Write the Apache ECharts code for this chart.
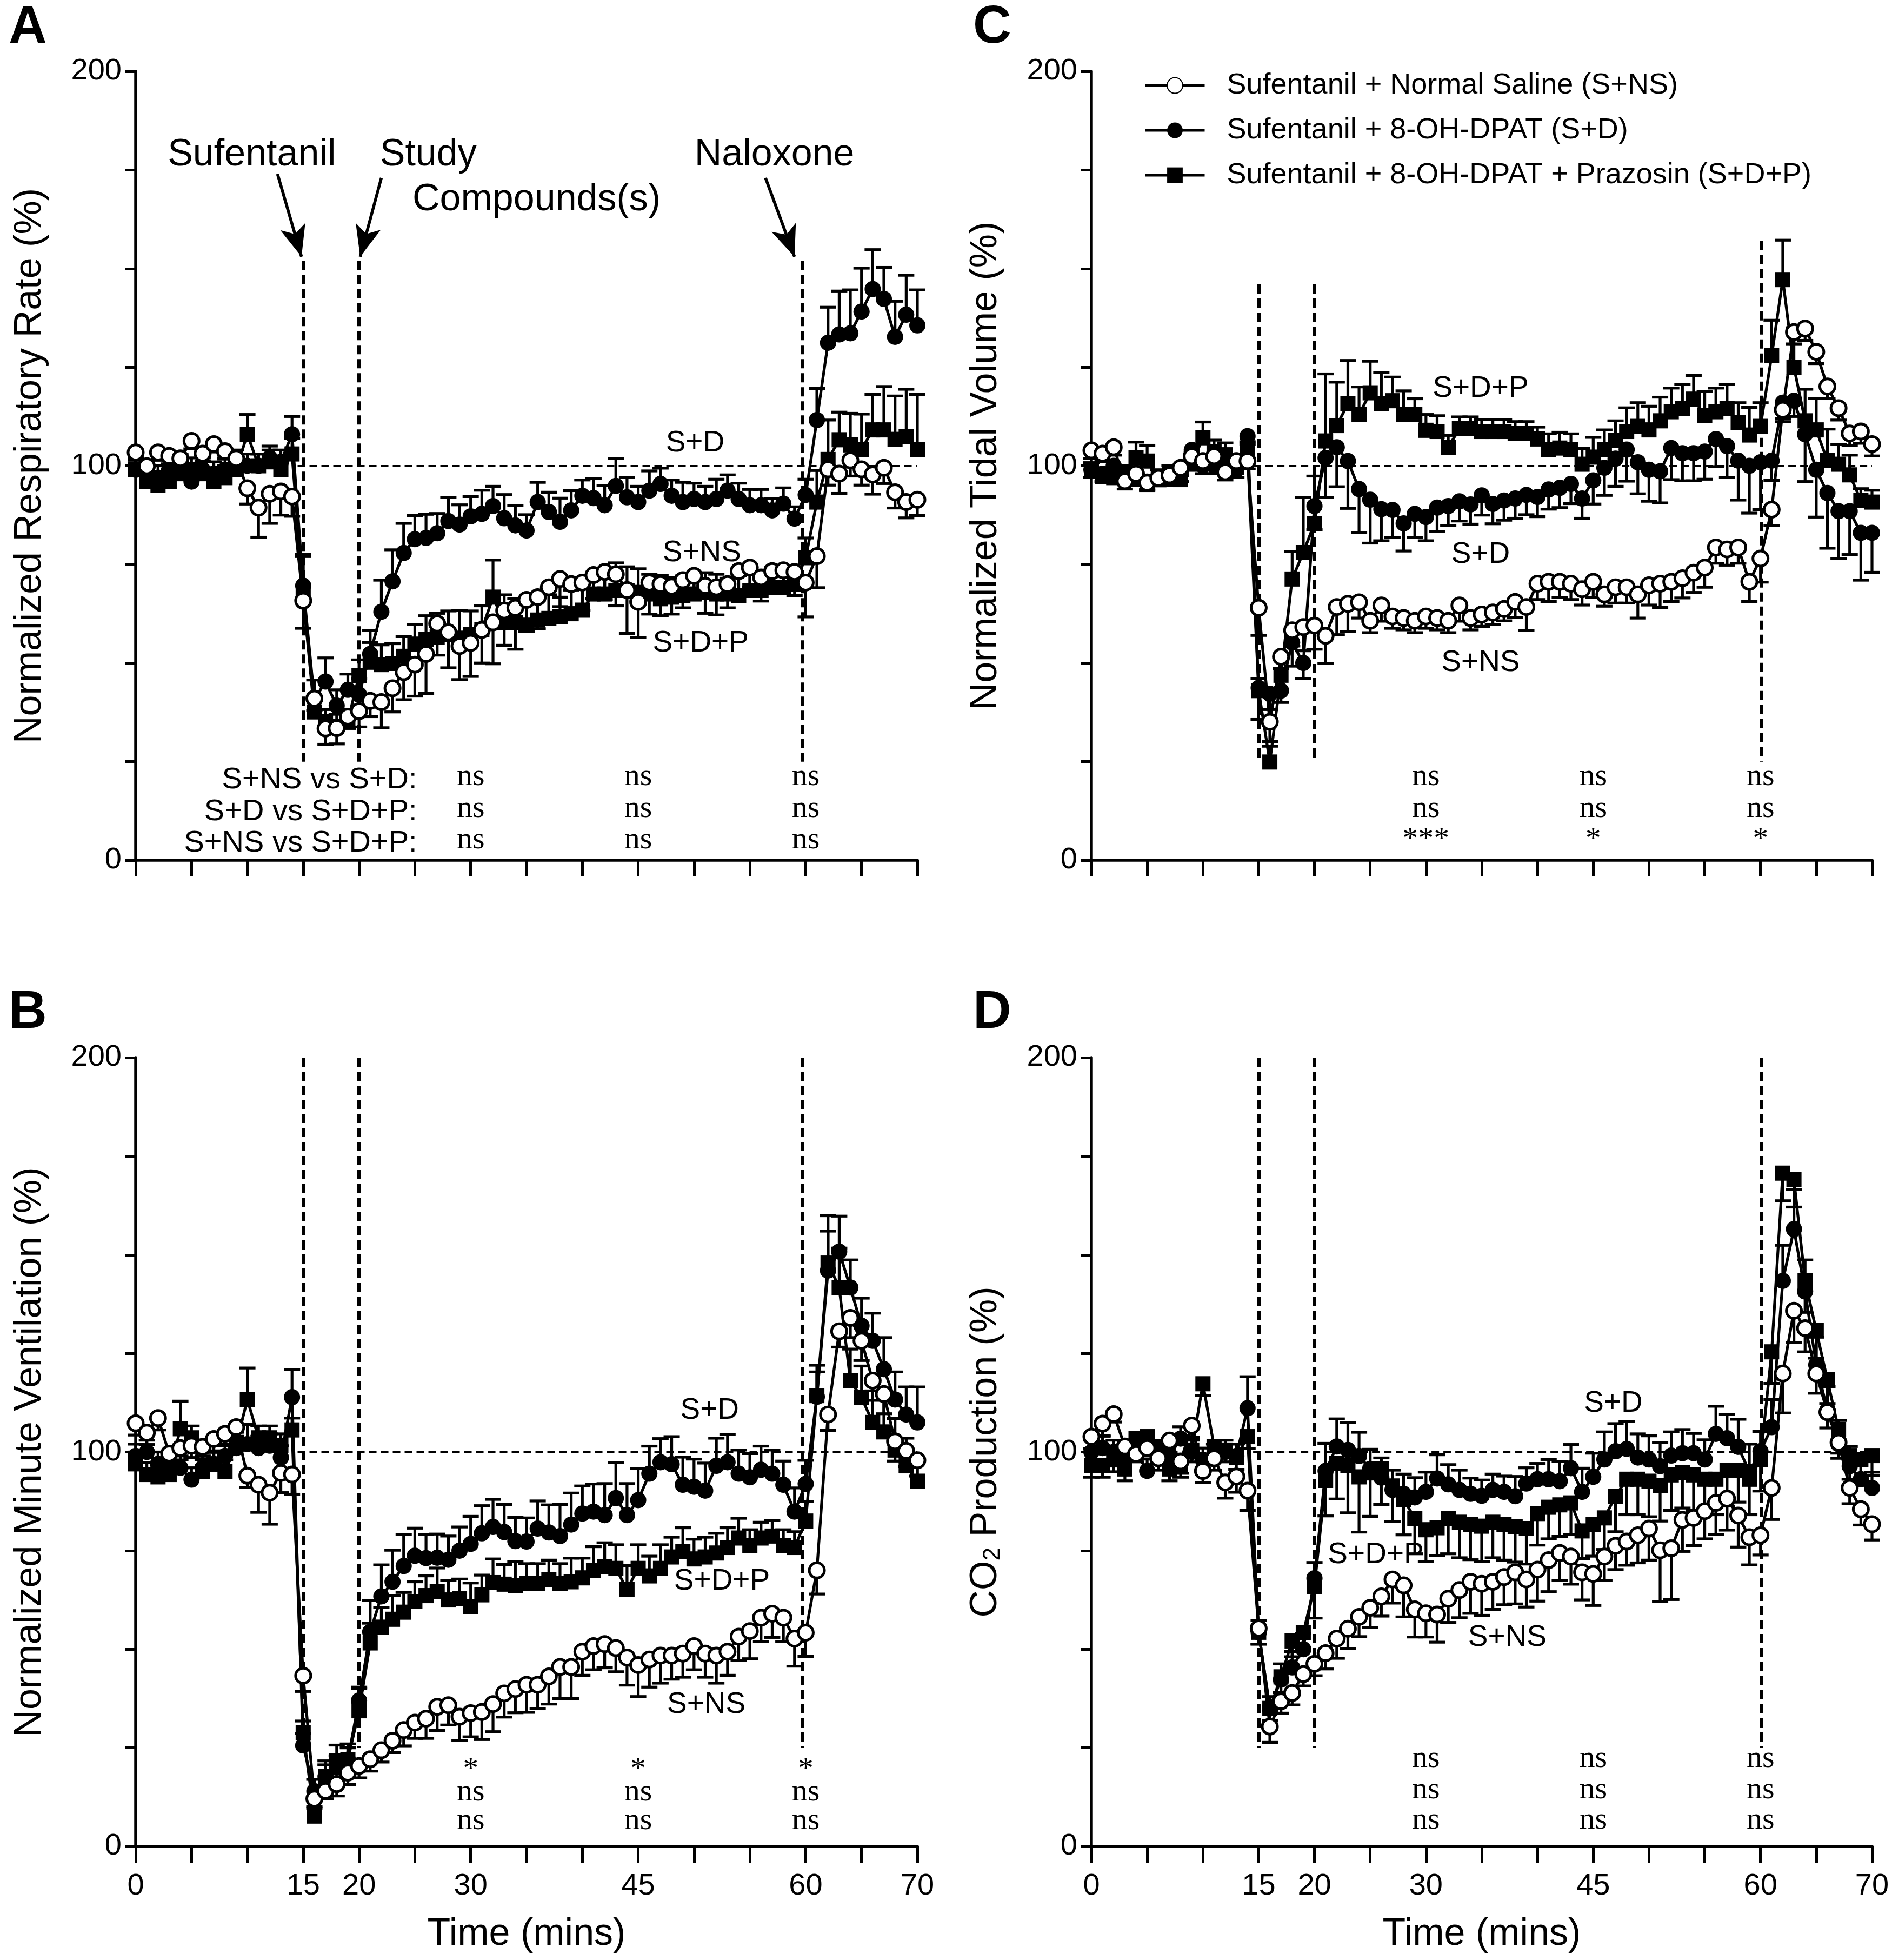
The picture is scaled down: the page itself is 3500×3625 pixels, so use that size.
<!DOCTYPE html>
<html><head><meta charset="utf-8">
<script src="https://cdn.jsdelivr.net/npm/echarts@6/dist/echarts.min.js"></script>
<style>html,body{margin:0;padding:0;background:#fff}#c{width:3500px;height:3625px}</style>
</head><body><div id="c"></div>
<script>
// ---------- DATA ----------
const minutes = [0,1,2,3,4,5,6,7,8,9,10,11,12,13,14,15,16,17,18,19,20,21,22,23,24,25,26,27,28,29,30,31,32,33,34,35,36,37,38,39,40,41,42,43,44,45,46,47,48,49,50,51,52,53,54,55,56,57,58,59,60,61,62,63,64,65,66,67,68,69,70];
const xTickLabels = [0,15,20,30,45,60,70];
const yTickLabels = [0,100,200];
const seriesNames = ['Sufentanil + Normal Saline (S+NS)','Sufentanil + 8-OH-DPAT (S+D)','Sufentanil + 8-OH-DPAT + Prazosin (S+D+P)'];

// Panel A: Normalized Respiratory Rate (%)
const rrNS = [103.4,99.9,103.4,102.5,101.9,106.3,103.1,105.5,103.7,101.9, 94.3,89.4,92.9,93.5,92.2,65.8,41.0,33.4,33.5,36.4, 37.8,40.4,40.1,43.6,47.7,49.6,52.3,60.0,57.8,54.3, 55.1,58.4,60.3,63.3,64.0,66.0,66.7,69.2,71.3,70.0, 70.4,72.3,73.1,72.5,68.5,65.5,70.4,70.0,69.4,71.0, 72.1,69.6,69.2,70.0,73.3,74.2,71.7,73.3,73.5,73.1, 70.4,77.1,99.1,98.0,101.4,99.1,97.8,99.5,93.3,90.8, 91.4];
const rrNSerr = [2,2,2,2,2,2,2,2,2,2, 4,7.5,7.5,6,5,7,3,4,4,3, 4,4,6.5,6,7,8,10,8,9,8.5, 8.5,8.4,10.5,8.8,10.5,8,8,8,7,7, 7,6,7,8,11,9,8,8,7,7, 6,7,7,6,6,5,6,5,5,6, 8.7,8,4,5,4,4,5,4,4,4, 4];
const rrD = [99,98,97,99,100,96,99,98,99,101, 100,100,102,101,108,69.6,40.7,45.3,39.2,43.2, 42.0,52.3,63.0,70.7,77.9,81.4,81.7,82.9,86.0,85.1, 87.2,87.8,89.8,86.7,84.9,83.6,90.8,88.3,85.8,88.7, 92.4,91.8,90.0,94.9,92.0,90.8,93.7,95.4,92.4,90.8, 91.6,90.8,91.6,93.7,91.6,90.0,90.0,88.7,90.4,86.6, 92.6,111.6,131.2,133.3,133.6,139.1,144.8,142.3,132.7,138.3, 135.6];
const rrDerr = [3,3,3,3,3,3,3,3,3,3, 3,3,3,3,4.5,8,5,6,4,4, 4,6,8,8,7.5,6,6,5,6,5, 5,6,5,6,5,4,5,5,6,5, 4,5,5,7,5,4,5,4,4,5, 4,4,5,4,4,4,4,3,4,3, 4,8,9,11,11,11,10,8,9,10, 9];
const rrP = [99,96,95,96,98,99,98,96,97,99, 108,100,101,99,103,67.0,37.6,35.2,34.0,35.2, 46.8,50.2,49.6,49.9,51.7,54.8,56.0,56.6,57.2,56.3, 57.2,58.5,66.7,60.3,60.3,59.6,60.9,61.3,61.7,62.5, 63.4,67.5,67.5,68.4,68.4,67.9,67.5,66.3,66.7,67.1, 67.5,67.9,67.5,67.5,67.1,68.4,68.4,69.2,69.2,70.0, 76.7,90.8,101.6,106.6,105.3,104.1,109.1,109.1,106.7,107.4, 104.1];
const rrPerr = [3,3,3,3,3,3,3,3,3,3, 5,3,3,3,4,10,4,3,3,3, 4,5,5,5,5,5,6,6,6,7, 6,6,9.4,7,6,6,5,6,5,6, 6,5,6,7,6,6,5,6,5,5, 5,5,5,4,5,4,4,5,4,4, 5,8,10,7,8,9,9,11,11,12, 14];

// Panel B: Normalized Minute Ventilation (%)
const mvNS = [107.3,104.9,108.6,99.6,101.0,101.6,101.3,103.3,104.6,106.3, 94.0,91.7,89.7,94.7,94.3,43.3,12.1,14.1,15.8,18.7, 20.4,22.1,24.4,26.8,29.5,31.4,32.4,35.4,35.8,32.9, 33.8,34.1,36.1,38.8,39.9,41.0,41.0,43.1,45.5,45.5, 49.4,50.8,51.3,50.3,47.9,46.0,47.4,48.4,48.4,48.9, 50.8,48.9,48.4,49.4,53.2,54.6,58.0,59.0,58.0,52.7, 54.2,70.0,109.5,130.6,134.0,128.2,118.1,114.7,102.7,100.3, 97.9];
const mvNSerr = [3,3,3,3,3,3,3,3,3,3, 3,7,8,5,5,4,2,2,3,3, 3,3,3,3,4,4,5,6,5,6, 6,7,7,6,6,7,6,7,8,8, 6,6,6,6,7,8,7,7,6,6, 6,6,7,6,6,7,6,6,6,7, 6,6,4,4,5,5,5,5,5,4, 4];
const mvD = [99,100,97,96,96,93,96,97,99,101, 102,101,101.6,98.6,113.9,25.6,14,17.7,20,22, 37,54.4,63.4,67.1,71.1,73.7,73.1,73.2,72.7,75.0, 76.7,79.4,81.0,79.7,77.4,77.3,80.6,79.6,78.7,81.6, 84.4,84.9,84.0,88.3,84.0,87.8,94.5,97.4,96.9,91.7, 91.2,90.2,96.5,97.4,94.5,93.6,95.5,94.5,91.7,84.9, 91.9,114.0,146.0,150.8,141.7,132.0,128.2,121.0,113.3,109.5, 107.5];
const mvDerr = [3,3,3,3,3,3,3,3,3,3, 5,3,3,3,7,3,3,3,3,3, 3,8,8,8,8,7,6,6,6,6, 7,7,7,7,6,6,7,7,8,8, 7,7,8,9,8,8,7,6,7,7, 7,7,7,7,6,6,6,6,6,6, 6,8,10,9,7,7,7,8,7,7, 9];
const mvP = [97,94.3,93.7,94.3,105.9,103.6,95.0,96.9,95.0,102, 113.3,103.6,103.6,101.6,105.6,28.8,7.7,17.7,21.7,22, 34.4,51.6,55.6,57.6,59.4,62.1,63.6,64.6,62.5,62.8, 60.8,63.8,66.9,66.5,66.2,66.7,66.7,67.6,66.7,67.1, 68.1,70.0,71.0,70.5,65.2,70.5,68.6,70.5,73.4,74.8, 72.9,73.4,74.4,75.8,78.2,76.3,78.2,78.7,76.3,75.8, 82.5,114.3,147.9,141.7,118.1,113.8,107.5,105.1,100.5,96.5, 92.6];
const mvPerr = [3,3,3,3,7,3,3,3,3,3, 8,3,3,3,3,3,2,4,4,4, 6,5,5,6,5,5,5,6,5,5, 6,5,6,5,6,5,5,5,5,6, 5,6,6,6,6,6,5,6,5,6, 5,5,5,5,5,4,4,4,4,4, 5,6,12,10,8,8,8,9,8,7, 6];

// Panel C: Normalized Tidal Volume (%)
const tvNS = [103.9,103.1,104.7,96.1,98.0,95.7,96.9,97.6,99.5,102.4, 101.2,102.4,98.4,101.2,101.2,64.0,35.1,51.6,58.3,59.1, 59.5,56.9,64.2,65.0,65.4,60.7,64.6,61.8,61.4,60.7, 61.8,61.4,60.7,64.6,61.4,62.3,62.8,63.7,65.5,64.2, 70.1,70.6,70.6,70.1,68.7,70.6,67.4,69.2,69.2,67.4, 69.7,70.1,70.6,71.5,72.9,74.2,79.3,78.8,79.3,70.6, 76.5,88.9,114.2,133.9,134.8,128.9,120.1,114.6,108.2,108.7, 105.5];
const tvNSerr = [2,2,2,2,2,2,2,2,2,2, 2,2,2,2,2,7,5,3,4,6, 6,7,7,7,4,3,4,3,3,3, 3,3,3,4,3,3,3,3,4,6, 4,5,4,4,4,4,3,4,4,6, 5,6,5,5,5,5,4,4,4,5, 6,4,3,3,3,3,3,3,3,3, 3];
const tvD = [99,98,100,98,97,96,97,97,98,104, 100,100,100,99,107.5,43.7,42.2,43.0,55.2,50.0, 89.8,102.0,104.7,101.2,94.1,91.4,89.0,88.8,85.4,87.8, 87.0,89.4,89.8,91.0,90.2,92.5,90.3,91.2,91.7,92.6, 92.1,94.0,94.4,95.4,91.7,96.3,99.5,101.8,104.1,100.9, 99.0,98.6,104.5,103.2,103.2,103.6,106.8,105.0,101.3,100.0, 100.9,101.3,116.0,116.5,108.0,99.0,93.1,88.5,88.5,83.0, 83.0];
const tvDerr = [2,2,2,2,2,2,2,2,2,2, 2,2,2,2,2,8,4,3,6,4, 6,10,10,12,11,11,8,7,7,6, 6,6,5,5,5,5,5,5,5,5, 5,5,5,5,5,6,7,7,8,8, 8,8,8,7,7,7,7,8,10,12, 12,5,4,4,12,12,14,12,11,12, 10];
const tvP = [98.8,97.2,97,98,102,101.2,97,98,96.5,100.4, 107.1,103.5,102.8,99.6,103.1,43.0,24.9,46.9,71.3,78.0, 85.4,106.3,110.2,115.7,113.0,118.5,115.7,116.5,113.0,113.0, 109.0,108.7,104.7,109.4,109.4,108.7,108.7,108.7,108.2,108.2, 106.8,104.1,104.5,104.1,100.4,102.2,104.1,106.4,108.7,110.0, 109.1,111.4,113.7,114.6,116.9,112.8,113.7,114.6,111.0,107.8, 110.0,127.9,147.2,125.0,111.4,109.1,101.3,100.4,97.7,91.2, 90.8];
const tvPerr = [2,2,2,2,4,4,2,2,2,3, 4,3,3,2,3,3,4,4,7,14, 12,17,11,11,7,8,8,6,6,4, 4,4,3,3,3,3,3,3,3,3, 3,4,4,4,4,5,5,5,6,6, 6,6,6,6,6,6,6,6,5,7, 6,9,10,10,8,8,8,5,5,3, 3];

// Panel D: CO2 Production (%)
const coNS = [103.9,107.2,109.6,101.4,99.5,101.0,98.4,102.9,97.6,106.7, 95.2,98.4,92.3,93.8,90.2,55.3,30.4,36.8,38.9,43.7, 46.3,49.0,52.7,55.2,58.2,60.5,63.4,67.7,66.2,60.1, 59.1,58.8,62.8,65.0,67.1,66.6,67.1,68.3,69.5,67.7, 70.2,72.6,74.4,73.5,69.5,69.1,73.5,76.2,77.3,78.9, 80.6,75.1,75.6,82.8,83.3,85.0,87.1,88.2,83.9,78.4, 78.9,90.9,119.9,135.8,131.4,119.9,110.1,102.4,90.9,85.5, 81.7];
const coNSerr = [3,3,2,3,2,2,3,3,3,3, 3,3,4,4,5,4,4,3,3,3, 3,4,5,5,5,5,5,6,8,7, 6,7,6,7,8,8,7,7,8,7, 8,8,7,7,7,8,6,6,6,7, 8,13,13,8,7,7,8,8,8,7, 5,8,10,8,6,5,4,4,4,4, 4];
const coD = [100,101,100,99,100,95.2,100,99,103.4,100, 98,99,100,99,111.1,54.3,35,42.3,45.4,50, 68.0,95.2,101.4,100.5,99.0,95.7,93.5,90.4,89.4,88.5, 89.9,93.3,91.8,90.4,89.4,88.9,90.4,89.9,88.8,92.0, 93.1,93.1,92.6,95.9,89.9,93.7,98.1,100.2,100.8,98.6, 98.1,96.4,99.1,99.7,99.7,98.1,104.6,103.5,101.3,95.0, 100.2,106.3,143.4,156.5,140.7,122.1,110.6,102.0,96.4,93.1, 90.9];
const coDerr = [3,3,3,3,3,3,3,3,3,3, 3,3,3,3,8,3,3,4,4,4, 4,7,7,7,6,5,5,5,5,5, 5,6,5,5,4,4,4,4,5,4, 4,5,5,6,6,6,7,7,7,6, 6,6,6,6,5,5,7,6,7,7, 5,7,9,10,8,7,6,6,5,5, 4];
const coP = [96.6,96.6,98,95.7,103.4,103.9,101.4,95.7,96.6,100.5, 117.3,101.4,100.5,98.6,103.9,54.3,35,43,52.1,54.2, 65.9,92.8,97.1,96.6,93.7,94.7,95.7,91.4,88.0,83.2, 80.3,80.8,83.2,82.2,81.7,81.2,82.2,81.6,81.1,80.6, 84.4,86.0,86.6,87.1,80.0,81.6,83.3,88.8,93.1,93.1, 92.6,91.5,94.2,94.8,94.2,93.1,93.1,95.3,95.3,93.1, 98.1,125.4,170.7,169.1,143.4,130.8,118.3,105.7,99.1,98.1, 99.1];
const coPerr = [3,3,3,3,3,3,3,3,3,3, 3,3,3,3,3,3,3,4,4,4, 8,9,9,12,14,11,9,9,9,9, 8,7,9,9,9,9,9,9,9,9, 8,8,8,8,7,8,8,9,9,9, 9,9,9,9,9,9,9,9,8,9, 8,8,7,7,8,7,6,6,6,6, 5];

// Significance annotations (rows at 30, 45, 60 min)
const sigTimes = [30,45,60];
const sigA = [['ns','ns','ns'],['ns','ns','ns'],['ns','ns','ns']];
const sigB = [['*','*','*'],['ns','ns','ns'],['ns','ns','ns']];
const sigC = [['ns','ns','ns'],['ns','ns','ns'],['***','*','*']];
const sigD = [['ns','ns','ns'],['ns','ns','ns'],['ns','ns','ns']];
const rowLabels = ['S+NS vs S+D:','S+D vs S+D+P:','S+NS vs S+D+P:'];

// ---------- BUILD ----------
const SANS = '"Liberation Sans", Arial, Helvetica, sans-serif';
const SERIF = '"Liberation Serif", "Times New Roman", serif';
const grids = [
  {left:251, top:132, width:1446, height:1459},
  {left:251, top:1956, width:1446, height:1459},
  {left:2019, top:132, width:1444, height:1459},
  {left:2019, top:1956, width:1444, height:1459}
];
const panels = [
  {vals:[rrNS,rrD,rrP], errs:[rrNSerr,rrDerr,rrPerr], dirs:[-1,1,1], showX:false,
   yName:'Normalized Respiratory Rate (%)', vlines:[[15,152,25],[20,152,25],[59.7,152,25]],
   arrows:[[12.7,174,14.85,153],[22.0,173,20.1,153],[56.4,173,59.0,153]],
   sig:sigA, sigY:[21.2,13.1,5.1], rowLabels:true,
   texts:[{x:50.1,y:105.7,t:'S+D'},{x:50.7,y:77.9,t:'S+NS'},{x:50.6,y:55.0,t:'S+D+P'},
          {x:10.4,y:178.8,t:'Sufentanil',big:true},{x:26.2,y:178.8,t:'Study',big:true},
          {x:35.9,y:167.4,t:'Compounds(s)',big:true},{x:57.2,y:178.8,t:'Naloxone',big:true}]},
  {vals:[mvNS,mvD,mvP], errs:[mvNSerr,mvDerr,mvPerr], dirs:[-1,1,1], showX:true,
   yName:'Normalized Minute Ventilation (%)', vlines:[[15,200,25],[20,200,25],[59.7,200,25]], arrows:[],
   sig:sigB, sigY:[19.3,13.8,6.5], rowLabels:false,
   texts:[{x:51.4,y:110.5,t:'S+D'},{x:52.5,y:67.2,t:'S+D+P'},{x:51.1,y:35.9,t:'S+NS'}]},
  {vals:[tvNS,tvD,tvP], errs:[tvNSerr,tvDerr,tvPerr], dirs:[-1,-1,1], showX:false,
   yName:'Normalized Tidal Volume (%)', vlines:[[15,146,25],[20,146,25],[60.1,157,25]], arrows:[],
   sig:sigC, sigY:[21.2,13.1,5.1], rowLabels:false,
   texts:[{x:34.9,y:119.5,t:'S+D+P'},{x:34.9,y:77.5,t:'S+D'},{x:34.9,y:50.1,t:'S+NS'}]},
  {vals:[coNS,coD,coP], errs:[coNSerr,coDerr,coPerr], dirs:[-1,1,-1], showX:true,
   yName:'CO{s|2} Production (%)', vlines:[[15,200,25],[20,200,25],[60.1,200,25]], arrows:[],
   sig:sigD, sigY:[22.2,14.3,6.6], rowLabels:false,
   texts:[{x:46.8,y:112.3,t:'S+D'},{x:25.5,y:73.9,t:'S+D+P'},{x:37.3,y:53.0,t:'S+NS'}]}
];

const styles = [
  {symbol:'circle', symbolSize:28, itemStyle:{color:'#fff', borderColor:'#000', borderWidth:5}},
  {symbol:'circle', symbolSize:30, itemStyle:{color:'#000', borderColor:'#000', borderWidth:0}},
  {symbol:'rect', symbolSize:28, itemStyle:{color:'#000', borderColor:'#000', borderWidth:0}}
];
const LW = 5.2;

function errSeries(g, vals, errs, dir, z){
  return {type:'custom', xAxisIndex:g, yAxisIndex:g, z:z, silent:true, clip:false, animation:false,
    data: minutes.map((m,i)=>[m, vals[i], errs[i]]),
    renderItem:function(params, api){
      const x=api.value(0), y=api.value(1), e=api.value(2);
      const a=api.coord([x,y]); const b=api.coord([x,y+dir*e]);
      return {type:'group', children:[
        {type:'line', shape:{x1:a[0],y1:a[1],x2:b[0],y2:b[1]}, style:{stroke:'#000', lineWidth:LW}},
        {type:'line', shape:{x1:b[0]-15,y1:b[1],x2:b[0]+15,y2:b[1]}, style:{stroke:'#000', lineWidth:LW}}
      ]};
    }};
}
function textSeries(g, items){
  return {type:'custom', xAxisIndex:g, yAxisIndex:g, z:20, silent:true, clip:false, animation:false,
    data: items.map(it=>[it.x,it.y]),
    renderItem:function(params, api){
      const it=items[params.dataIndex]; const p=api.coord([it.x,it.y]);
      return {type:'text', x:p[0], y:p[1], style:{text:it.t, fill:'#000', font:it.font,
        align:it.align||'center', verticalAlign:'middle'}};
    }};
}

const series = [];
panels.forEach((p,g)=>{
  [2,1,0].forEach((k,ord)=>{
    const s = {type:'line', name:seriesNames[k], xAxisIndex:g, yAxisIndex:g, z:3+ord, animation:false,
      data: minutes.map((m,i)=>[m, p.vals[k][i]]),
      symbol:styles[k].symbol, symbolSize:styles[k].symbolSize, showAllSymbol:true,
      itemStyle:styles[k].itemStyle, lineStyle:{color:'#000', width:LW}, emphasis:{disabled:true}};
    if(k===2){
      const ml = [];
      p.vlines.forEach(v=>ml.push([{coord:[v[0],v[1]], lineStyle:{type:[17,9], width:6, color:'#000'}},{coord:[v[0],v[2]]}]));
      ml.push([{coord:[14.5,100], lineStyle:{type:[14,8], width:4, color:'#000'}},{coord:[70,100]}]);
      p.arrows.forEach(a=>ml.push([{coord:[a[0],a[1]], symbol:'none', lineStyle:{type:'solid', width:5.5, color:'#000'}},
                                   {coord:[a[2],a[3]], symbol:'arrow', symbolSize:[36,58]}]));
      s.markLine = {silent:true, symbol:['none','none'], label:{show:false}, animation:false, data:ml,
                    emphasis:{disabled:true}};
    }
    series.push(s);
    series.push(errSeries(g, p.vals[k], p.errs[k], p.dirs[k], 2));
  });
  const items = p.texts.map(t=>({x:t.x, y:t.y, t:t.t, font:(t.big?'70px ':'55px ')+SANS}));
  p.sig.forEach((row,r)=>row.forEach((s,c)=>items.push({x:sigTimes[c], y:p.sigY[r], t:s, font:'58px '+SERIF})));
  if(p.rowLabels) rowLabels.forEach((t,r)=>items.push({x:25.2, y:p.sigY[r]-0.8, t:t, font:'56px '+SANS, align:'right'}));
  series.push(textSeries(g, items));
});

const option = {
  backgroundColor:'#fff', animation:false,
  grid: grids.map(g=>Object.assign({outerBoundsMode:'none', containLabel:false}, g)),
  legend:{data:seriesNames, orient:'vertical', left:2111, top:126, itemWidth:110, itemHeight:36, itemGap:29,
    selectedMode:false, lineStyle:{width:5, color:'#000'},
    textStyle:{fontSize:54, fontFamily:SANS, color:'#000', padding:[0,0,0,36]}},
  xAxis: panels.map((p,i)=>({gridIndex:i, type:'value', min:0, max:70, interval:5,
    axisLine:{show:true, onZero:false, lineStyle:{color:'#000', width:5.5}},
    axisTick:{show:true, length:30, lineStyle:{color:'#000', width:5}},
    axisLabel:{show:p.showX, margin:46, fontSize:56, fontFamily:SANS, color:'#000',
      formatter:v=>xTickLabels.indexOf(v)>=0?String(v):''},
    splitLine:{show:false},
    name:p.showX?'Time (mins)':'', nameLocation:'middle', nameGap:128,
    nameTextStyle:{fontSize:70, fontFamily:SANS, color:'#000'}})),
  yAxis: panels.map((p,i)=>({gridIndex:i, type:'value', min:0, max:200, interval:25,
    axisLine:{show:true, onZero:false, lineStyle:{color:'#000', width:5.5}},
    axisTick:{show:true, length:20, lineStyle:{color:'#000', width:5}},
    axisLabel:{margin:26, fontSize:56, fontFamily:SANS, color:'#000',
      formatter:v=>yTickLabels.indexOf(v)>=0?String(v):''},
    splitLine:{show:false},
    name:p.yName, nameLocation:'middle', nameGap:160,
    nameTextStyle:{fontSize:70, fontFamily:SANS, color:'#000',
      rich:{s:{fontSize:44, fontFamily:SANS, color:'#000', lineHeight:50, verticalAlign:'bottom', padding:[22,0,0,0]}}}})),
  graphic:[
    {type:'text', x:16, y:52, style:{text:'A', font:'bold 98px '+SANS, fill:'#000', verticalAlign:'middle'}},
    {type:'text', x:16, y:1874, style:{text:'B', font:'bold 98px '+SANS, fill:'#000', verticalAlign:'middle'}},
    {type:'text', x:1800, y:52, style:{text:'C', font:'bold 98px '+SANS, fill:'#000', verticalAlign:'middle'}},
    {type:'text', x:1800, y:1874, style:{text:'D', font:'bold 98px '+SANS, fill:'#000', verticalAlign:'middle'}}
  ],
  series: series
};
const chart = echarts.init(document.getElementById('c'), null, {renderer:'canvas'});
chart.setOption(option);
</script></body></html>
